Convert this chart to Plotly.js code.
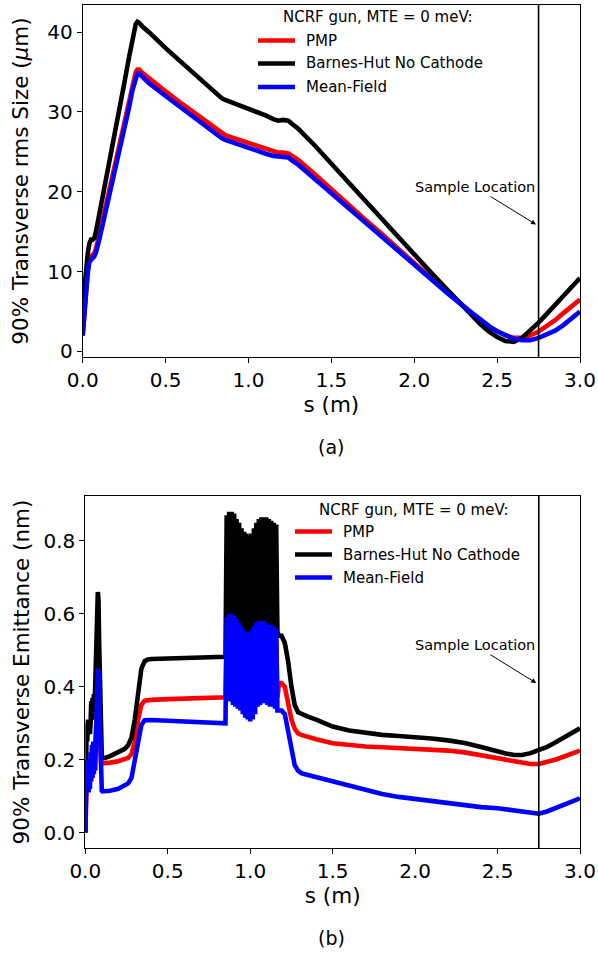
<!DOCTYPE html>
<html>
<head>
<meta charset="utf-8">
<script src="https://cdn.plot.ly/plotly-3.0.1.min.js"></script>
<style>html,body{margin:0;padding:0;background:#fff;}#chart{width:598px;height:957px;}</style>
</head>
<body>
<div id="chart"></div>
<script>
// ---------- Panel (a): 90% transverse rms size (um) ----------
const sizeS = [0, 0.01, 0.02, 0.03, 0.04, 0.05, 0.06, 0.07, 0.08, 0.1, 0.15, 0.2, 0.25, 0.28, 0.3, 0.32, 0.33, 0.34, 0.36, 0.4, 0.5, 0.6, 0.7, 0.8, 0.84, 0.86, 0.9, 1.0, 1.1, 1.15, 1.18, 1.21, 1.24, 1.27, 1.3, 1.4, 1.5, 1.6, 1.7, 1.8, 1.9, 2.0, 2.1, 2.2, 2.3, 2.4, 2.45, 2.5, 2.55, 2.6, 2.65, 2.7, 2.75, 2.8, 2.85, 2.9, 2.95, 3.0];
const sizePMP = [2.0, 5.0, 7.8, 10.0, 11.6, 12.0, 12.1, 12.3, 12.9, 14.6, 19.2, 23.8, 28.4, 31.4, 33.5, 35.0, 35.3, 35.3, 34.9, 34.2, 32.6, 31.0, 29.5, 27.9, 27.3, 27.1, 26.8, 26.1, 25.4, 25.0, 24.9, 24.9, 24.8, 24.4, 24.0, 22.2, 20.3, 18.5, 16.6, 14.8, 12.9, 11.1, 9.2, 7.4, 5.6, 3.9, 3.1, 2.5, 2.0, 1.7, 1.7, 2.0, 2.5, 3.2, 3.9, 4.8, 5.6, 6.5];
const sizeBH = [5.5, 8.0, 10.3, 12.2, 13.5, 14.0, 14.0, 14.2, 15.0, 17.1, 22.6, 28.0, 33.5, 36.9, 39.3, 41.0, 41.3, 41.2, 40.7, 40.0, 38.0, 36.1, 34.2, 32.3, 31.7, 31.5, 31.2, 30.3, 29.6, 29.1, 28.9, 29.0, 28.9, 28.4, 27.9, 25.8, 23.5, 21.3, 19.0, 16.7, 14.5, 12.2, 9.9, 7.7, 5.5, 3.4, 2.5, 1.8, 1.3, 1.2, 1.7, 2.6, 3.6, 4.7, 5.8, 6.9, 8.1, 9.2];
const sizeMF = [2.0, 4.8, 7.5, 9.8, 11.2, 11.6, 11.7, 11.9, 12.4, 14.0, 18.5, 23.1, 27.7, 30.6, 32.7, 34.4, 34.8, 34.8, 34.4, 33.6, 32.0, 30.4, 28.8, 27.3, 26.7, 26.5, 26.2, 25.5, 24.8, 24.5, 24.4, 24.4, 24.3, 23.8, 23.4, 21.6, 19.8, 18.0, 16.2, 14.4, 12.6, 10.8, 9.0, 7.3, 5.6, 3.9, 3.2, 2.5, 2.0, 1.6, 1.4, 1.4, 1.7, 2.1, 2.6, 3.3, 4.1, 5.0];

// ---------- Panel (b): 90% transverse emittance (nm) ----------
const emitS = [0, 0.004, 0.008, 0.012, 0.016, 0.02, 0.024, 0.028, 0.032, 0.036, 0.04, 0.044, 0.048, 0.052, 0.056, 0.06, 0.064, 0.068, 0.072, 0.076, 0.08, 0.084, 0.088, 0.092, 0.096, 0.1, 0.104, 0.12, 0.15, 0.2, 0.24, 0.26, 0.28, 0.3, 0.32, 0.34, 0.36, 0.38, 0.4, 0.5, 0.6, 0.7, 0.8, 0.85,
  0.8575, 0.865, 0.8725, 0.88, 0.8875, 0.895, 0.9025, 0.91, 0.9175, 0.925, 0.9325, 0.94, 0.9475, 0.955, 0.9625, 0.97, 0.9775, 0.985, 0.9925, 1.0, 1.0075, 1.015, 1.0225, 1.03, 1.0375, 1.045, 1.0525, 1.06, 1.0675, 1.075, 1.0825, 1.09, 1.0975, 1.105, 1.1125, 1.12, 1.1275, 1.135, 1.1425, 1.15, 1.1575, 1.165,
  1.175, 1.19, 1.21, 1.23, 1.25, 1.27, 1.29, 1.31, 1.35, 1.4, 1.5, 1.6, 1.7, 1.8, 1.9, 2.0, 2.1, 2.2, 2.3, 2.4, 2.5, 2.55, 2.6, 2.65, 2.7, 2.75, 2.8, 2.85, 2.9, 2.95, 3.0];
const emitPMP = [0.0, 0.12, 0.18, 0.19, 0.19, 0.2, 0.19, 0.2, 0.19, 0.2, 0.19, 0.21, 0.2, 0.22, 0.2, 0.23, 0.26, 0.3, 0.36, 0.4, 0.38, 0.32, 0.25, 0.2, 0.19, 0.19, 0.19, 0.19, 0.192, 0.196, 0.2, 0.205, 0.215, 0.25, 0.31, 0.35, 0.362, 0.364, 0.364, 0.366, 0.367, 0.368, 0.37, 0.371,
  0.56, 0.4, 0.57, 0.39, 0.57, 0.38, 0.565, 0.37, 0.56, 0.37, 0.55, 0.36, 0.54, 0.35, 0.535, 0.35, 0.53, 0.34, 0.53, 0.34, 0.535, 0.35, 0.55, 0.36, 0.56, 0.37, 0.57, 0.38, 0.58, 0.38, 0.6, 0.38, 0.59, 0.38, 0.57, 0.37, 0.56, 0.37, 0.55, 0.37, 0.54, 0.37,
  0.41, 0.41, 0.4, 0.36, 0.31, 0.285, 0.272, 0.268, 0.262, 0.256, 0.245, 0.24, 0.236, 0.234, 0.232, 0.231, 0.228, 0.225, 0.22, 0.212, 0.204, 0.199, 0.195, 0.191, 0.188, 0.188, 0.193, 0.2, 0.208, 0.216, 0.225];
const emitBH = [0.0, 0.22, 0.3, 0.25, 0.31, 0.28, 0.31, 0.27, 0.3, 0.36, 0.31, 0.37, 0.33, 0.38, 0.35, 0.4, 0.45, 0.52, 0.6, 0.66, 0.64, 0.52, 0.4, 0.3, 0.23, 0.21, 0.205, 0.205, 0.21, 0.22, 0.23, 0.24, 0.26, 0.31, 0.39, 0.45, 0.47, 0.475, 0.476, 0.477, 0.478, 0.48, 0.481, 0.482,
  0.87, 0.54, 0.88, 0.53, 0.88, 0.52, 0.875, 0.5, 0.86, 0.5, 0.85, 0.48, 0.835, 0.47, 0.825, 0.47, 0.82, 0.46, 0.815, 0.47, 0.82, 0.48, 0.835, 0.5, 0.85, 0.5, 0.86, 0.52, 0.865, 0.55, 0.865, 0.58, 0.865, 0.55, 0.86, 0.53, 0.855, 0.53, 0.85, 0.54, 0.845, 0.55,
  0.54, 0.54, 0.52, 0.47, 0.4, 0.35, 0.33, 0.325, 0.318, 0.31, 0.291, 0.28, 0.273, 0.268, 0.265, 0.263, 0.258, 0.253, 0.246, 0.235, 0.222, 0.217, 0.213, 0.213, 0.218, 0.225, 0.235, 0.247, 0.26, 0.273, 0.286];
const emitMF = [0.0, 0.14, 0.2, 0.12, 0.2, 0.11, 0.2, 0.12, 0.22, 0.14, 0.24, 0.15, 0.25, 0.16, 0.24, 0.17, 0.26, 0.32, 0.4, 0.45, 0.44, 0.36, 0.26, 0.18, 0.13, 0.115, 0.113, 0.113, 0.115, 0.12, 0.128, 0.135, 0.15, 0.2, 0.26, 0.295, 0.308, 0.31, 0.309, 0.307, 0.305, 0.304, 0.302, 0.3,
  0.59, 0.37, 0.6, 0.36, 0.6, 0.35, 0.595, 0.345, 0.585, 0.34, 0.575, 0.335, 0.565, 0.325, 0.555, 0.315, 0.55, 0.31, 0.55, 0.305, 0.555, 0.31, 0.565, 0.325, 0.575, 0.345, 0.58, 0.35, 0.58, 0.355, 0.58, 0.355, 0.575, 0.35, 0.57, 0.345, 0.57, 0.345, 0.565, 0.34, 0.56, 0.335,
  0.335, 0.335, 0.325, 0.28, 0.22, 0.185, 0.17, 0.163, 0.158, 0.152, 0.14, 0.128, 0.116, 0.106, 0.098, 0.092, 0.085, 0.079, 0.074, 0.07, 0.067, 0.064, 0.06, 0.056, 0.053, 0.052, 0.058, 0.066, 0.075, 0.085, 0.094];

const seriesNames = ['PMP', 'Barnes-Hut No Cathode', 'Mean-Field'];
const seriesColors = ['#ff0000', '#000000', '#0000ff'];
const legendTitle = 'NCRF gun, MTE = 0 meV:';
const sampleLocation = 2.75;
const xTicks = [0, 0.5, 1.0, 1.5, 2.0, 2.5, 3.0];
const sizeTicks = [0, 10, 20, 30, 40];
const emitTicks = [0, 0.2, 0.4, 0.6, 0.8];

const FONT = 'DejaVu Sans, sans-serif';
const LW = 4.6;
const TICKSIZE = 20;
const TITLESIZE = 21.5;

const topY = [sizePMP, sizeBH, sizeMF];
const botY = [emitPMP, emitBH, emitMF];
const traces = [];
for (let i = 0; i < 3; i++) {
  traces.push({x: sizeS, y: topY[i], type: 'scatter', mode: 'lines', name: seriesNames[i],
    line: {color: seriesColors[i], width: LW}, xaxis: 'x', yaxis: 'y', showlegend: false});
}
for (let i = 0; i < 3; i++) {
  traces.push({x: emitS, y: botY[i], type: 'scatter', mode: 'lines', name: seriesNames[i],
    line: {color: seriesColors[i], width: LW}, xaxis: 'x2', yaxis: 'y2', showlegend: false});
}

const W = 598, H = 957;
const px = v => v / W;
const py = v => 1 - v / H;

const axisCommon = {
  showline: true, mirror: true, linecolor: '#000', linewidth: 1,
  ticks: 'outside', ticklen: 5, tickwidth: 1, tickcolor: '#000',
  showgrid: false, zeroline: false, automargin: false,
  tickfont: {family: FONT, size: TICKSIZE, color: '#000'}
};
const titleFont = {family: FONT, size: TITLESIZE, color: '#000'};
const legendFont = {family: FONT, size: 15, color: '#000'};

const shapes = [
  {type: 'line', xref: 'x', yref: 'y domain', x0: sampleLocation, x1: sampleLocation, y0: 0, y1: 1, line: {color: '#000', width: 1.6}},
  {type: 'line', xref: 'x2', yref: 'y2 domain', x0: sampleLocation, x1: sampleLocation, y0: 0, y1: 1, line: {color: '#000', width: 1.6}}
];
const annotations = [
  {xref: 'x', yref: 'y', x: 2.735, y: 15.9, axref: 'x', ayref: 'y', ax: 2.367, ay: 20.6,
   text: 'Sample Location', showarrow: true, arrowhead: 2, arrowsize: 1, arrowwidth: 1, arrowcolor: '#000',
   font: {family: FONT, size: 14.5, color: '#000'}},
  {xref: 'x2', yref: 'y2', x: 2.735, y: 0.41, axref: 'x2', ayref: 'y2', ax: 2.363, ay: 0.514,
   text: 'Sample Location', showarrow: true, arrowhead: 2, arrowsize: 1, arrowwidth: 1, arrowcolor: '#000',
   font: {family: FONT, size: 14.5, color: '#000'}},
  {xref: 'paper', yref: 'paper', x: px(331), y: py(447), xanchor: 'center', yanchor: 'middle', showarrow: false,
   text: '(a)', font: {family: FONT, size: 19, color: '#000'}},
  {xref: 'paper', yref: 'paper', x: px(331), y: py(938), xanchor: 'center', yanchor: 'middle', showarrow: false,
   text: '(b)', font: {family: FONT, size: 19, color: '#000'}}
];

// Hand-placed legends (one per panel), matching the reference's layout
function addLegend(titleCx, titleCy, lineX0, lineX1, textX, rowYs) {
  annotations.push({xref: 'paper', yref: 'paper', x: px(titleCx), y: py(titleCy), xanchor: 'center', yanchor: 'middle',
    showarrow: false, text: legendTitle, font: legendFont});
  for (let i = 0; i < seriesNames.length; i++) {
    shapes.push({type: 'line', xref: 'paper', yref: 'paper', x0: px(lineX0), x1: px(lineX1), y0: py(rowYs[i]), y1: py(rowYs[i]),
      line: {color: seriesColors[i], width: LW}});
    annotations.push({xref: 'paper', yref: 'paper', x: px(textX), y: py(rowYs[i]), xanchor: 'left', yanchor: 'middle',
      showarrow: false, text: seriesNames[i], font: legendFont});
  }
}
addLegend(377.5, 17, 258, 295, 304, [40.5, 63.5, 87]);
addLegend(414, 510, 295, 332, 341, [531.5, 554.5, 577.5]);

const layout = {
  width: W, height: H,
  margin: {l: 0, r: 0, t: 0, b: 0},
  paper_bgcolor: '#fff', plot_bgcolor: '#fff',
  font: {family: FONT, color: '#000'},
  showlegend: false,
  xaxis: Object.assign({}, axisCommon, {
    domain: [px(82.7), px(580)], anchor: 'y', range: [0, 3],
    tickvals: xTicks, tickformat: '.1f',
    title: {text: 's (m)', font: titleFont, standoff: 4}
  }),
  yaxis: Object.assign({}, axisCommon, {
    domain: [py(357), py(5)], anchor: 'x', range: [-0.7, 43.4],
    tickvals: sizeTicks,
    title: {text: '90% Transverse rms Size (<i>μ</i>m)', font: titleFont, standoff: 12}
  }),
  xaxis2: Object.assign({}, axisCommon, {
    domain: [px(85.3), px(580)], anchor: 'y2', range: [0, 3],
    tickvals: xTicks, tickformat: '.1f',
    title: {text: 's (m)', font: titleFont, standoff: 4}
  }),
  yaxis2: Object.assign({}, axisCommon, {
    domain: [py(848.3), py(495.7)], anchor: 'x2', range: [-0.043, 0.924],
    tickvals: emitTicks, tickformat: '.1f',
    title: {text: '90% Transverse Emittance (nm)', font: titleFont, standoff: 7}
  }),
  shapes: shapes,
  annotations: annotations
};

Plotly.newPlot('chart', traces, layout, {staticPlot: true, displayModeBar: false});
</script>
</body>
</html>
